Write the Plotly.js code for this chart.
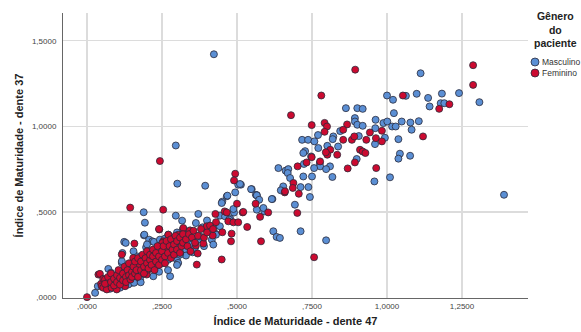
<!DOCTYPE html>
<html><head><meta charset="utf-8">
<script src="https://cdn.plot.ly/plotly-3.0.1.min.js"></script>
<style>html,body{margin:0;padding:0;background:#fff;}#chart{width:581px;height:332px;}</style>
</head><body><div id="chart"></div>
<script>
// ---- data ----
const seriesNames = ["Masculino", "Feminino"];
const legendTitle = "Gênero<br>do<br>paciente";
const xTickVals = [0, 0.25, 0.5, 0.75, 1.0, 1.25];
const xTickText = [",0000", ",2500", ",5000", ",7500", "1,0000", "1,2500"];
const yTickVals = [0, 0.5, 1.0, 1.5];
const yTickText = [",0000", ",5000", "1,0000", "1,5000"];

const maleX = [0.423,1.112,1.308,1.0,1.02,1.063,1.099,1.137,1.183,1.24,1.142,1.179,1.191,0.863,0.901,0.919,1.023,0.893,0.893,0.901,0.919,0.962,0.988,1.001,1.017,1.029,1.049,1.078,1.106,1.082,0.961,0.77,0.821,0.844,0.819,0.906,0.993,0.96,1.038,0.717,0.737,0.758,0.771,0.801,0.837,0.899,1.043,1.038,1.077,0.747,0.727,0.721,0.723,0.776,0.777,0.81,0.797,0.818,0.757,1.01,0.958,1.39,0.638,0.662,0.671,0.669,0.677,0.721,0.75,0.743,0.712,0.738,0.654,0.646,0.618,0.693,0.563,0.549,0.566,0.566,0.591,0.513,0.621,0.632,0.643,0.712,0.797,
0.296,0.301,0.394,0.189,0.193,0.296,0.317,0.371,0.363,0.451,0.466,0.504,0.494,0.443,0.49,0.477,0.449,0.468,0.428,0.432,0.352,0.371,0.51,0.547,0.566,0.46,0.474,0.443,0.43,0.416,0.338,0.377,0.421,0.588,0.574,0.616,0.488,
0.027,0.036,0.071,0.077,0.116,0.116,0.118,0.124,0.129,0.149,0.166,0.166,0.182,0.19,0.191,0.197,0.207,0.218,0.223,0.243,0.254,0.26,0.266,0.271,
0.10,0.13,0.15,0.20,0.22,0.28,0.30,0.31,0.33,0.29,0.25,0.18,0.14,0.09,0.06,0.24,0.30,0.32,0.34,0.35,0.27,0.33,0.304,0.277,0.221,0.177,0.054,0.077,0.093,0.11,0.138,0.157,0.179,0.27,0.30,0.385,0.40,0.36,
0.08,0.155,0.21,0.235,0.31,0.345,0.39,0.2];
const maleY = [1.421,1.310,1.141,1.180,1.155,1.178,1.19,1.166,1.191,1.194,1.116,1.135,1.135,1.106,1.106,1.102,1.077,1.048,1.028,1.009,1.003,1.038,1.019,1.028,0.999,0.999,1.028,1.022,1.03,0.98,0.989,0.949,0.941,0.972,0.925,0.943,0.933,0.896,0.925,0.921,0.921,0.912,0.873,0.886,0.882,0.809,0.84,0.811,0.828,0.824,0.855,0.844,0.78,0.785,0.766,0.766,0.75,0.704,0.756,0.702,0.678,0.6,0.756,0.741,0.75,0.727,0.698,0.707,0.707,0.587,0.645,0.645,0.649,0.626,0.575,0.542,0.6,0.633,0.597,0.513,0.503,0.659,0.387,0.354,0.348,0.387,0.334,
0.888,0.665,0.653,0.498,0.437,0.478,0.449,0.488,0.435,0.560,0.591,0.659,0.614,0.478,0.496,0.462,0.552,0.595,0.373,0.42,0.264,0.338,0.663,0.633,0.597,0.474,0.455,0.416,0.367,0.338,0.348,0.357,0.309,0.523,0.571,0.575,0.517,
0.027,0.066,0.167,0.076,0.202,0.212,0.26,0.325,0.319,0.086,0.099,0.241,0.134,0.363,0.367,0.293,0.338,0.328,0.325,0.338,0.26,0.344,0.319,0.367,
0.12,0.15,0.18,0.22,0.20,0.25,0.22,0.30,0.28,0.32,0.20,0.19,0.11,0.10,0.09,0.15,0.38,0.40,0.33,0.31,0.22,0.245,0.202,0.124,0.124,0.105,0.064,0.051,0.066,0.057,0.076,0.086,0.089,0.16,0.19,0.41,0.45,0.29,
0.145,0.27,0.17,0.29,0.25,0.39,0.30,0.31];

const femaleX = [0.894,1.287,1.287,0.781,1.053,1.174,1.208,0.68,0.749,0.792,0.8,0.867,1.12,0.983,0.792,0.854,0.854,0.883,0.891,0.943,0.963,0.983,0.931,0.749,0.811,0.801,0.834,0.91,0.919,0.928,0.893,0.869,0.964,0.702,0.732,0.777,0.796,0.659,0.706,0.688,0.686,0.66,0.701,0.562,0.577,0.604,0.519,0.534,0.58,0.757,
0.243,0.144,0.254,0.399,0.428,0.494,0.49,0.5,0.459,0.466,0.471,0.488,0.504,0.521,0.482,0.451,0.48,0.419,0.449,0.366,0.388,0.363,0.369,0.343,0.241,0.321,0.304,0.254,
0.0,0.038,0.043,0.047,0.049,0.054,0.054,0.06,0.066,0.082,0.099,0.116,0.127,0.154,0.158,0.171,0.199,0.204,0.227,0.24,0.243,0.251,0.266,0.271,
0.06,0.07,0.08,0.08,0.09,0.09,0.10,0.10,0.105,0.11,0.11,
0.12,0.12,0.125,0.13,0.13,0.135,0.14,0.14,0.145,0.15,0.15,0.155,0.16,0.16,0.165,0.17,0.17,
0.18,0.18,0.185,0.19,0.19,0.195,0.20,0.20,0.205,0.21,0.21,0.215,0.22,0.22,0.225,0.23,0.23,0.235,0.24,0.24,
0.25,0.25,0.255,0.26,0.26,0.265,0.27,0.275,0.28,0.28,0.285,0.29,0.29,0.295,0.30,0.30,0.31,0.31,0.315,0.32,0.32,
0.33,0.335,0.34,0.345,0.35,0.355,0.36,0.37,0.38,0.39,0.40,0.41,0.42,0.43];
const femaleY = [1.331,1.357,1.242,1.180,1.18,1.102,1.129,1.065,1.007,1.02,0.999,1.011,0.941,0.974,0.968,0.98,0.921,0.921,0.941,0.964,0.931,0.912,0.921,0.82,0.863,0.834,0.834,0.863,0.853,0.844,0.789,0.754,0.756,0.766,0.789,0.795,0.848,0.614,0.606,0.669,0.64,0.62,0.494,0.548,0.471,0.497,0.497,0.412,0.328,0.235,
0.797,0.525,0.513,0.416,0.488,0.723,0.684,0.548,0.503,0.497,0.445,0.439,0.439,0.5,0.373,0.381,0.328,0.362,0.222,0.192,0.315,0.303,0.257,0.392,0.397,0.406,0.367,0.328,
0.002,0.134,0.138,0.08,0.066,0.109,0.057,0.105,0.047,0.057,0.047,0.251,0.066,0.231,0.315,0.192,0.134,0.163,0.183,0.4,0.222,0.319,0.28,0.367,
0.08,0.12,0.09,0.14,0.07,0.11,0.13,0.09,0.16,0.075,0.115,
0.10,0.14,0.18,0.12,0.09,0.16,0.20,0.13,0.105,0.15,0.12,0.18,0.14,0.21,0.16,0.12,0.23,
0.16,0.21,0.25,0.18,0.14,0.23,0.20,0.27,0.17,0.22,0.25,0.19,0.28,0.24,0.16,0.21,0.26,0.30,0.24,0.19,
0.27,0.22,0.30,0.24,0.20,0.33,0.26,0.30,0.23,0.34,0.28,0.31,0.25,0.36,0.28,0.33,0.26,0.35,0.30,0.37,0.32,
0.34,0.30,0.37,0.27,0.35,0.39,0.32,0.36,0.40,0.35,0.38,0.42,0.40,0.44];

// ---- chart ----
const font = "Liberation Sans, Arial, sans-serif";
const colors = ["#5b8fd4", "#cc0a30"];
const mk = (fill) => ({size: 7, color: fill, line: {color: "#2a2a3a", width: 0.8}});
const traces = [
  {type: "scatter", mode: "markers", name: seriesNames[0], x: maleX, y: maleY, marker: mk(colors[0]), cliponaxis: false},
  {type: "scatter", mode: "markers", name: seriesNames[1], x: femaleX, y: femaleY, marker: mk(colors[1]), cliponaxis: false}
];
// legend drawn at the right edge, as in the reference
const plotL = 63, plotR = 528, plotT = 13, plotB = 298;
const px2x = p => (p - plotL) / (plotR - plotL);
const px2y = p => (plotB - p) / (plotB - plotT);
const legendRows = [62, 73];
const shapes = seriesNames.map((n, i) => ({
  type: "circle", xref: "paper", yref: "paper", xsizemode: "pixel", ysizemode: "pixel",
  xanchor: px2x(535), yanchor: px2y(legendRows[i]), x0: -4, x1: 4, y0: -4, y1: 4,
  fillcolor: colors[i], line: {color: "#2a2a3a", width: 0.8}
}));
const annotations = [
  {xref: "paper", yref: "paper", x: px2x(555), y: px2y(8), xanchor: "center", yanchor: "top", showarrow: false,
   text: legendTitle, align: "center", font: {family: font, size: 10.5, color: "#222", weight: "bold"}}
].concat(seriesNames.map((n, i) => ({
  xref: "paper", yref: "paper", x: px2x(539.5), y: px2y(legendRows[i]), xanchor: "left", yanchor: "middle",
  showarrow: false, text: n, font: {family: font, size: 8.5, color: "#333"}
})));
const layout = {
  width: 581, height: 332,
  margin: {l: plotL, r: 581 - plotR, t: plotT, b: 332 - plotB, pad: 0, autoexpand: false},
  paper_bgcolor: "#fff", plot_bgcolor: "#fff",
  font: {family: font, color: "#333", size: 8},
  showlegend: false,
  shapes: shapes, annotations: annotations,
  xaxis: {
    range: [-0.08, 1.47], tickvals: xTickVals, ticktext: xTickText,
    showgrid: true, gridcolor: "#dcdcdc", gridwidth: 1.2, zeroline: false,
    showline: true, linecolor: "#666", linewidth: 1, ticks: "", ticklabelstandoff: 0,
    tickfont: {family: font, size: 8, color: "#444"},
    title: {text: "Índice de Maturidade - dente 47", font: {family: font, size: 11, color: "#222", weight: "bold"}, standoff: 7}
  },
  yaxis: {
    range: [-0.003, 1.662], tickvals: yTickVals, ticktext: yTickText,
    showgrid: true, gridcolor: "#dcdcdc", gridwidth: 1.2, zeroline: false,
    showline: true, linecolor: "#666", linewidth: 1, ticks: "", ticklabelstandoff: 4,
    tickfont: {family: font, size: 8, color: "#444"},
    title: {text: "Índice de Maturidade - dente 37", font: {family: font, size: 11, color: "#222", weight: "bold"}, standoff: 6}
  }
};
Plotly.newPlot("chart", traces, layout, {staticPlot: true, displayModeBar: false});
</script>
</body></html>
